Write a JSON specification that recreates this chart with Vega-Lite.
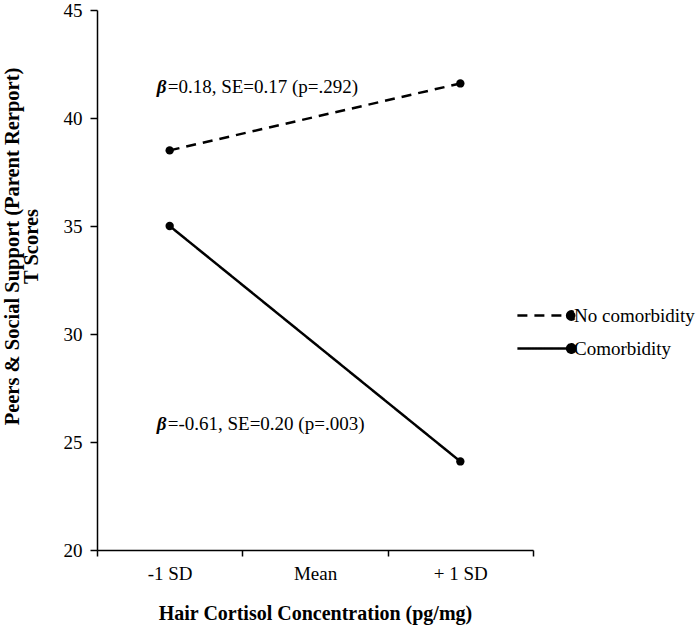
{
  "$schema": "https://vega.github.io/schema/vega-lite/v6.json",
  "autosize": {"type": "none"},
  "padding": {"left": 97, "top": 10, "right": 164, "bottom": 79},
  "width": 436,
  "height": 540,
  "background": "white",
  "config": {
    "font": "Liberation Serif",
    "view": {"stroke": null},
    "axis": {"grid": false, "domainColor": "black", "tickColor": "black", "labelColor": "black", "titleColor": "black", "domainWidth": 1.5, "tickWidth": 1.5, "labelFont": "Liberation Serif", "titleFont": "Liberation Serif"}
  },
  "datasets": {
    "lines": [
      {"level": "-1 SD", "group": "No comorbidity", "score": 38.5},
      {"level": "+ 1 SD", "group": "No comorbidity", "score": 41.6},
      {"level": "-1 SD", "group": "Comorbidity", "score": 35.0},
      {"level": "+ 1 SD", "group": "Comorbidity", "score": 24.1}
    ],
    "notes": [
      {"level": "-1 SD", "score": 41.45, "beta": "β", "label": "=0.18, SE=0.17 (p=.292)"},
      {"level": "-1 SD", "score": 25.85, "beta": "β", "label": "=-0.61, SE=0.20 (p=.003)"}
    ]
  },
  "layer": [
    {
      "data": {"name": "lines"},
      "mark": {"type": "line", "color": "black", "strokeWidth": 2.5},
      "encoding": {
        "x": {
          "field": "level", "type": "nominal",
          "scale": {"type": "band", "domain": ["-1 SD", "Mean", "+ 1 SD"], "paddingInner": 0, "paddingOuter": 0},
          "axis": {"title": "Hair Cortisol Concentration (pg/mg)", "labelAngle": 0, "tickBand": "extent", "labelFontSize": 19, "labelPadding": 8, "tickSize": 6, "titleFontSize": 20, "titleFontWeight": "bold", "titlePadding": 20}
        },
        "y": {
          "field": "score", "type": "quantitative",
          "scale": {"domain": [20, 45], "nice": false, "zero": false},
          "axis": {"title": ["Peers & Social Support (Parent Rerport)", "T Scores"], "values": [20, 25, 30, 35, 40, 45], "labelFontSize": 19, "labelPadding": 8, "tickSize": 7, "titleFontSize": 20.5, "titleFontWeight": "bold", "titlePadding": 22, "titleLineHeight": 19, "titleY": 236}
        },
        "strokeDash": {
          "field": "group", "type": "nominal",
          "scale": {"domain": ["No comorbidity", "Comorbidity"], "range": [[10, 7], [1, 0]]},
          "legend": {
            "title": null, "orient": "none", "legendX": 441, "legendY": 296,
            "symbolType": "M-4.3,0H3.4M2.8,0a0.6,0.6 0 1,0 1.2,0a0.6,0.6 0 1,0 -1.2,0",
            "symbolSize": 196, "symbolStrokeWidth": 2.5, "symbolStrokeColor": "black", "symbolFillColor": "black",
            "labelFontSize": 19, "labelOffset": 17, "labelColor": "black", "rowPadding": 13,
            "labelFont": "Liberation Serif"
          }
        }
      }
    },
    {
      "data": {"name": "lines"},
      "mark": {"type": "point", "filled": true, "color": "black", "size": 70, "opacity": 1},
      "encoding": {
        "x": {"field": "level", "type": "nominal"},
        "y": {"field": "score", "type": "quantitative"}
      }
    },
    {
      "data": {"name": "notes"},
      "mark": {"type": "text", "align": "left", "baseline": "middle", "dx": -13, "fontSize": 19, "fontStyle": "italic", "fontWeight": "bold", "font": "Liberation Serif", "color": "black"},
      "encoding": {
        "x": {"field": "level", "type": "nominal"},
        "y": {"field": "score", "type": "quantitative"},
        "text": {"field": "beta"}
      }
    },
    {
      "data": {"name": "notes"},
      "mark": {"type": "text", "align": "left", "baseline": "middle", "dx": -2, "fontSize": 19, "font": "Liberation Serif", "color": "black"},
      "encoding": {
        "x": {"field": "level", "type": "nominal"},
        "y": {"field": "score", "type": "quantitative"},
        "text": {"field": "label"}
      }
    }
  ]
}
